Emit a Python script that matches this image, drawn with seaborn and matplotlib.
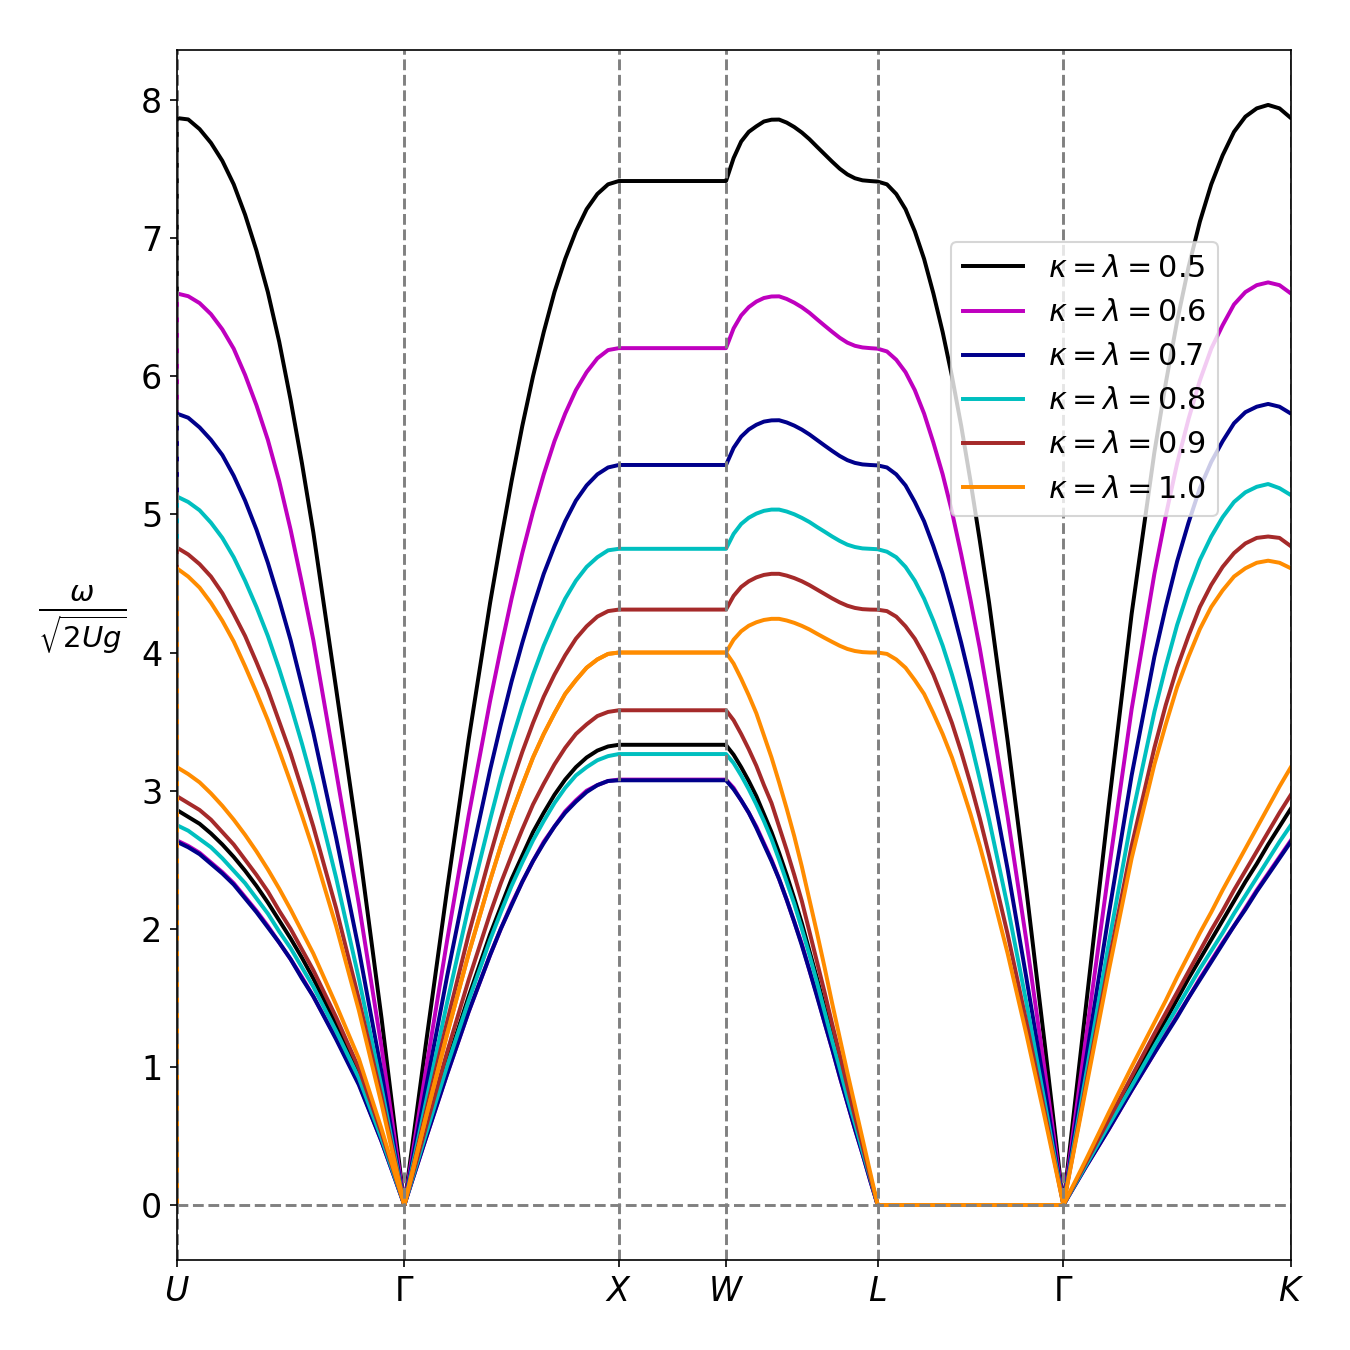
import matplotlib
matplotlib.use("Agg")
import matplotlib.pyplot as plt
import seaborn as sns

# high-symmetry points along the k-path (path length units)
tick_pos = [0.0, 1.0607, 2.0607, 2.5607, 3.2678, 4.1338, 5.1945]
tick_labels = [r"$U$", r"$\Gamma$", r"$X$", r"$W$", r"$L$", r"$\Gamma$", r"$K$"]
kappa = ["0.5", "0.6", "0.7", "0.8", "0.9", "1.0"]
colors = ["black", "m", "darkblue", "c", "brown", "darkorange"]

# ---- U -> Gamma (fraction along segment) ----
t_UG = [0, 0, .05, .1, .15, .2, .25, .3, .35, .4, .45, .5, .55, .6, .7, .8, .9, 1]
UG_up = [
    [0, 7.87, 7.86, 7.79, 7.69, 7.56, 7.39, 7.17, 6.91, 6.61, 6.25, 5.83, 5.37, 4.87, 3.74, 2.60, 1.35, 0],
    [0, 6.60, 6.58, 6.53, 6.45, 6.34, 6.20, 6.01, 5.79, 5.54, 5.24, 4.89, 4.50, 4.09, 3.14, 2.18, 1.14, 0],
    [0, 5.73, 5.70, 5.63, 5.54, 5.43, 5.28, 5.10, 4.89, 4.65, 4.38, 4.09, 3.76, 3.42, 2.66, 1.85, 0.96, 0],
    [0, 5.13, 5.09, 5.03, 4.94, 4.83, 4.69, 4.52, 4.33, 4.12, 3.88, 3.62, 3.34, 3.04, 2.37, 1.64, 0.85, 0],
    [0, 4.76, 4.71, 4.64, 4.55, 4.43, 4.28, 4.12, 3.93, 3.73, 3.50, 3.27, 3.01, 2.74, 2.15, 1.49, 0.78, 0],
    [0, 4.61, 4.55, 4.47, 4.36, 4.23, 4.08, 3.90, 3.71, 3.51, 3.29, 3.06, 2.82, 2.57, 2.02, 1.41, 0.73, 0],
]
UG_lo = [
    [0, 2.86, 2.81, 2.76, 2.69, 2.61, 2.52, 2.42, 2.31, 2.19, 2.06, 1.93, 1.79, 1.64, 1.31, 0.95, 0.50, 0],
    [0, 2.64, 2.60, 2.55, 2.48, 2.41, 2.33, 2.23, 2.13, 2.02, 1.90, 1.78, 1.65, 1.51, 1.21, 0.88, 0.46, 0],
    [0, 2.63, 2.59, 2.54, 2.47, 2.40, 2.32, 2.22, 2.12, 2.01, 1.90, 1.78, 1.64, 1.51, 1.20, 0.87, 0.46, 0],
    [0, 2.75, 2.71, 2.65, 2.59, 2.51, 2.42, 2.33, 2.22, 2.11, 1.98, 1.86, 1.72, 1.58, 1.26, 0.92, 0.48, 0],
    [0, 2.96, 2.91, 2.86, 2.79, 2.70, 2.61, 2.50, 2.39, 2.27, 2.13, 2.00, 1.85, 1.70, 1.36, 0.99, 0.52, 0],
    [0, 3.17, 3.12, 3.06, 2.98, 2.89, 2.79, 2.68, 2.56, 2.43, 2.29, 2.14, 1.98, 1.82, 1.45, 1.06, 0.55, 0],
]

# ---- Gamma -> X ----
t_GX = [0, .1, .2, .3, .4, .45, .5, .55, .6, .65, .7, .75, .8, .85, .9, .95, 1]
GX_up = [
    [0, 1.16, 2.29, 3.37, 4.36, 4.81, 5.24, 5.64, 6.00, 6.32, 6.61, 6.85, 7.05, 7.21, 7.32, 7.39, 7.414],
    [0, 0.97, 1.92, 2.82, 3.65, 4.03, 4.39, 4.72, 5.02, 5.29, 5.53, 5.73, 5.90, 6.03, 6.13, 6.19, 6.204],
    [0, 0.84, 1.66, 2.43, 3.15, 3.48, 3.79, 4.07, 4.33, 4.57, 4.77, 4.95, 5.10, 5.21, 5.29, 5.34, 5.358],
    [0, 0.74, 1.47, 2.16, 2.79, 3.09, 3.36, 3.61, 3.84, 4.05, 4.23, 4.39, 4.52, 4.62, 4.69, 4.74, 4.751],
    [0, 0.67, 1.33, 1.96, 2.53, 2.80, 3.05, 3.28, 3.49, 3.68, 3.84, 3.98, 4.10, 4.19, 4.26, 4.30, 4.311],
    [0, 0.63, 1.24, 1.82, 2.35, 2.60, 2.83, 3.04, 3.24, 3.41, 3.56, 3.70, 3.80, 3.89, 3.95, 3.99, 4.0],
]
GX_lo = [
    [0, 0.52, 1.03, 1.51, 1.96, 2.16, 2.36, 2.53, 2.70, 2.84, 2.97, 3.08, 3.17, 3.24, 3.29, 3.32, 3.332],
    [0, 0.48, 0.95, 1.40, 1.81, 2.00, 2.18, 2.34, 2.49, 2.63, 2.74, 2.85, 2.93, 3.00, 3.04, 3.07, 3.08],
    [0, 0.48, 0.95, 1.40, 1.81, 2.00, 2.17, 2.34, 2.49, 2.62, 2.74, 2.84, 2.92, 2.99, 3.04, 3.07, 3.075],
    [0, 0.51, 1.01, 1.48, 1.92, 2.12, 2.31, 2.48, 2.64, 2.78, 2.91, 3.02, 3.11, 3.17, 3.22, 3.25, 3.265],
    [0, 0.56, 1.11, 1.63, 2.11, 2.33, 2.53, 2.72, 2.90, 3.05, 3.19, 3.31, 3.41, 3.48, 3.54, 3.57, 3.582],
    [0, 0.63, 1.24, 1.82, 2.35, 2.60, 2.83, 3.04, 3.24, 3.41, 3.56, 3.70, 3.80, 3.89, 3.95, 3.99, 4.0],
]

# ---- X -> W (flat) ----
t_XW = [0, 1]
XW_up = [[7.414, 7.414], [6.204, 6.204], [5.358, 5.358],
         [4.751, 4.751], [4.311, 4.311], [4.0, 4.0]]
XW_lo = [[3.332, 3.332], [3.08, 3.08], [3.075, 3.075],
         [3.265, 3.265], [3.582, 3.582], [4.0, 4.0]]

# ---- W -> L ----
t_WL = [0, .05, .1, .15, .2, .25, .3, .35, .4, .45, .5,
        .55, .6, .65, .7, .75, .8, .85, .9, .95, 1]
WL_up = [
    [7.414, 7.58, 7.70, 7.77, 7.81, 7.845, 7.858, 7.859, 7.837, 7.805, 7.765,
     7.717, 7.662, 7.608, 7.554, 7.503, 7.462, 7.434, 7.419, 7.414, 7.41],
    [6.204, 6.347, 6.441, 6.501, 6.541, 6.567, 6.578, 6.579, 6.560, 6.533, 6.500,
     6.460, 6.413, 6.367, 6.322, 6.279, 6.244, 6.221, 6.209, 6.204, 6.20],
    [5.358, 5.482, 5.563, 5.615, 5.649, 5.672, 5.681, 5.682, 5.666, 5.643, 5.614,
     5.579, 5.539, 5.499, 5.460, 5.423, 5.393, 5.373, 5.362, 5.358, 5.355],
    [4.751, 4.859, 4.931, 4.976, 5.006, 5.026, 5.035, 5.035, 5.021, 5.001, 4.975,
     4.945, 4.909, 4.875, 4.840, 4.808, 4.781, 4.764, 4.754, 4.751, 4.748],
    [4.311, 4.410, 4.475, 4.516, 4.544, 4.562, 4.570, 4.570, 4.557, 4.539, 4.516,
     4.488, 4.456, 4.424, 4.392, 4.363, 4.339, 4.323, 4.314, 4.311, 4.31],
    [4.0, 4.093, 4.154, 4.194, 4.219, 4.236, 4.244, 4.244, 4.232, 4.215, 4.193,
     4.167, 4.136, 4.106, 4.077, 4.049, 4.026, 4.011, 4.003, 4.0, 4.0],
]
WL_lo = [
    [3.33, 3.26, 3.17, 3.07, 2.96, 2.83, 2.70, 2.55, 2.39, 2.22, 2.04,
     1.84, 1.64, 1.43, 1.22, 1.01, 0.80, 0.60, 0.40, 0.20, 0],
    [3.08, 3.02, 2.93, 2.84, 2.74, 2.62, 2.50, 2.36, 2.21, 2.05, 1.89,
     1.70, 1.52, 1.32, 1.13, 0.93, 0.74, 0.55, 0.37, 0.18, 0],
    [3.075, 3.01, 2.93, 2.84, 2.73, 2.61, 2.49, 2.36, 2.21, 2.05, 1.88,
     1.70, 1.51, 1.32, 1.13, 0.93, 0.74, 0.55, 0.37, 0.18, 0],
    [3.265, 3.20, 3.11, 3.01, 2.90, 2.78, 2.65, 2.50, 2.34, 2.18, 2.00,
     1.81, 1.61, 1.40, 1.19, 0.99, 0.78, 0.59, 0.39, 0.20, 0],
    [3.582, 3.51, 3.41, 3.30, 3.18, 3.04, 2.91, 2.74, 2.57, 2.39, 2.20,
     1.98, 1.76, 1.54, 1.31, 1.09, 0.86, 0.64, 0.43, 0.21, 0],
    [4.0, 3.92, 3.81, 3.69, 3.56, 3.40, 3.24, 3.06, 2.87, 2.67, 2.45,
     2.21, 1.97, 1.72, 1.46, 1.21, 0.96, 0.72, 0.48, 0.24, 0],
]

# ---- L -> Gamma ----
t_LG = [0, .05, .1, .15, .2, .25, .3, .35, .4, .45, .5, .55, .6, .7, .8, .9, 1]
LG_up = [
    [7.41, 7.39, 7.32, 7.21, 7.05, 6.85, 6.60, 6.32, 6.00, 5.64, 5.24, 4.81, 4.36, 3.36, 2.29, 1.16, 0],
    [6.20, 6.18, 6.12, 6.03, 5.90, 5.73, 5.52, 5.29, 5.02, 4.71, 4.38, 4.03, 3.64, 2.81, 1.92, 0.97, 0],
    [5.355, 5.34, 5.29, 5.21, 5.09, 4.95, 4.77, 4.57, 4.33, 4.07, 3.79, 3.48, 3.15, 2.43, 1.65, 0.84, 0],
    [4.748, 4.73, 4.69, 4.62, 4.52, 4.39, 4.23, 4.05, 3.84, 3.61, 3.36, 3.08, 2.79, 2.16, 1.47, 0.74, 0],
    [4.31, 4.30, 4.26, 4.19, 4.10, 3.98, 3.84, 3.67, 3.49, 3.28, 3.05, 2.80, 2.53, 1.96, 1.33, 0.67, 0],
    [4.0, 3.99, 3.95, 3.89, 3.80, 3.70, 3.56, 3.41, 3.24, 3.04, 2.83, 2.60, 2.35, 1.82, 1.24, 0.63, 0],
]
t_LG_lo = [0, 1]
LG_lo = [[0, 0], [0, 0], [0, 0], [0, 0], [0, 0], [0, 0]]

# ---- Gamma -> K ----
t_GK = [0, .1, .2, .3, .4, .45, .5, .55, .6, .65, .7, .75, .8, .85, .9, .95, 1]
GK_up = [
    [0, 1.45, 2.90, 4.28, 5.45, 5.95, 6.40, 6.79, 7.12, 7.39, 7.60, 7.77, 7.88, 7.94, 7.965, 7.94, 7.87],
    [0, 1.22, 2.43, 3.59, 4.57, 4.99, 5.37, 5.69, 5.97, 6.20, 6.37, 6.52, 6.61, 6.66, 6.68, 6.66, 6.60],
    [0, 1.06, 2.11, 3.11, 3.97, 4.33, 4.66, 4.94, 5.19, 5.38, 5.53, 5.66, 5.74, 5.78, 5.80, 5.78, 5.73],
    [0, 0.95, 1.90, 2.80, 3.57, 3.90, 4.20, 4.45, 4.67, 4.84, 4.98, 5.09, 5.16, 5.20, 5.22, 5.19, 5.14],
    [0, 0.88, 1.76, 2.60, 3.31, 3.62, 3.89, 4.12, 4.33, 4.49, 4.62, 4.72, 4.79, 4.83, 4.84, 4.83, 4.77],
    [0, 0.85, 1.70, 2.51, 3.19, 3.48, 3.75, 3.97, 4.17, 4.33, 4.45, 4.55, 4.61, 4.65, 4.665, 4.65, 4.61],
]
GK_lo = [
    [0, .30, .60, .90, 1.20, 1.34, 1.49, 1.64, 1.78, 1.92, 2.06, 2.20, 2.34, 2.47, 2.61, 2.74, 2.87],
    [0, .28, .55, .83, 1.10, 1.24, 1.37, 1.50, 1.64, 1.77, 1.90, 2.02, 2.15, 2.28, 2.40, 2.52, 2.64],
    [0, .28, .55, .83, 1.10, 1.23, 1.36, 1.50, 1.63, 1.76, 1.89, 2.02, 2.14, 2.27, 2.39, 2.51, 2.63],
    [0, .29, .58, .86, 1.15, 1.29, 1.43, 1.57, 1.71, 1.84, 1.97, 2.11, 2.24, 2.37, 2.50, 2.63, 2.75],
    [0, .31, .62, .93, 1.24, 1.39, 1.54, 1.69, 1.84, 1.99, 2.13, 2.28, 2.42, 2.56, 2.70, 2.84, 2.97],
    [0, .33, .67, 1.00, 1.32, 1.48, 1.65, 1.81, 1.97, 2.12, 2.28, 2.43, 2.58, 2.73, 2.88, 3.03, 3.17],
]

segments_up = [(t_UG, UG_up), (t_GX, GX_up), (t_XW, XW_up),
               (t_WL, WL_up), (t_LG, LG_up), (t_GK, GK_up)]
segments_lo = [(t_UG, UG_lo), (t_GX, GX_lo), (t_XW, XW_lo),
               (t_WL, WL_lo), (t_LG_lo, LG_lo), (t_GK, GK_lo)]


def band_path(segments, ci):
    xs, ys = [], []
    for k, (t, vals) in enumerate(segments):
        a, b = tick_pos[k], tick_pos[k + 1]
        xs += [a + ti * (b - a) for ti in t]
        ys += list(vals[ci])
    return xs, ys


fig = plt.figure(figsize=(9, 9), dpi=150)
ax = fig.add_axes([0.131, 0.0667, 0.8252, 0.8963])

for ci, (col, kap) in enumerate(zip(colors, kappa)):
    xs, ys = band_path(segments_up, ci)
    sns.lineplot(x=xs, y=ys, color=col, lw=1.9, sort=False, estimator=None,
                 ax=ax, label=r"$\kappa=\lambda=%s$" % kap)
    xs, ys = band_path(segments_lo, ci)
    sns.lineplot(x=xs, y=ys, color=col, lw=1.9, sort=False, estimator=None, ax=ax)

# reference lines drawn after the bands (same zorder, so they sit on top of
# the bands but under the spines)
for p in tick_pos:
    ax.axvline(p, color="gray", ls="--", lw=1.4)
ax.axhline(0, color="gray", ls="--", lw=1.4)

ax.set_xlim(tick_pos[0], tick_pos[-1])
ax.set_ylim(-0.398, 8.363)
ax.set_xticks(tick_pos)
ax.set_xticklabels(tick_labels)
ax.set_yticks(range(0, 9))
ax.tick_params(labelsize=16)

ax.set_ylabel(r"$\frac{\omega}{\sqrt{2Ug}}$", rotation=0, fontsize=20,
              ha="center", va="bottom")
ax.yaxis.set_label_coords(-0.085, 0.5)

ax.legend(loc="upper right", bbox_to_anchor=(0.9345, 0.8413),
          borderaxespad=0, fontsize=14.5)

fig.savefig("out.png", dpi=150)
